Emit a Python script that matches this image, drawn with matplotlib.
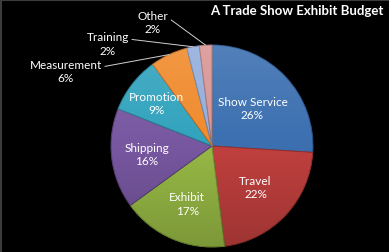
import numpy as np
import matplotlib
matplotlib.use("Agg")
import matplotlib.pyplot as plt
from matplotlib.lines import Line2D
from matplotlib.patches import Circle

plt.rcParams['font.family'] = ['Lato', 'DejaVu Sans']

# data, clockwise from 12 o'clock
categories = ["Show Service", "Travel", "Exhibit", "Shipping", "Promotion",
              "Measurement", "Training", "Other"]
shares = [26, 22, 17, 16, 9, 6, 2, 2]
colors = ["#3b6fb0", "#c0403e", "#97b945", "#7757a0", "#31a3bd",
          "#f08a2c", "#92aedc", "#d99593"]
edges = ["#2a5288", "#93302e", "#718b33", "#573f77", "#23798d",
         "#b86820", "#6d83a8", "#a56f6e"]

fig = plt.figure(figsize=(3.89, 2.53), dpi=100)
fig.patch.set_facecolor("black")
# thin grey frame on the top and left edge
fig.add_artist(Line2D([0, 1], [0.997, 0.997], color="#3c3c3c", lw=1.5, transform=fig.transFigure))
fig.add_artist(Line2D([0.002, 0.002], [0, 1], color="#3c3c3c", lw=1.5, transform=fig.transFigure))

ax = fig.add_axes([111 / 389, 5 / 253, 202 / 389, 202 / 253])
ax.set_facecolor("black")
wedges, _ = ax.pie(shares, colors=colors, startangle=90, counterclock=False,
                   radius=1.0, wedgeprops=dict(linewidth=0.7))
for w, ec in zip(wedges, edges):
    w.set_edgecolor(ec)

# soft light-to-dark shading over the pie, like the office chart style
yy = np.linspace(1, -1, 200)[:, None] * np.ones((1, 200))
shade = np.zeros((200, 200, 4))
top = np.clip(yy, 0, 1)
bot = np.clip(-yy, 0, 1)
shade[..., :3] = np.where(yy[..., None] > 0, 1.0, 0.0)
shade[..., 3] = 0.12 * top + 0.18 * bot
im = ax.imshow(shade, extent=(-1, 1, -1, 1), zorder=3, interpolation="bilinear")
clip = Circle((0, 0), 1.0, transform=ax.transData)
im.set_clip_path(clip)

ax.set_xlim(-1, 1)
ax.set_ylim(-1, 1)
ax.set_aspect("equal")
ax.axis("off")

# labels inside the big slices
inner_r = [0.55, 0.59, 0.62, 0.65, 0.69]
for i in range(5):
    w = wedges[i]
    mid = np.deg2rad((w.theta1 + w.theta2) / 2)
    ax.text(inner_r[i] * np.cos(mid), inner_r[i] * np.sin(mid),
            f"{categories[i]}\n{shares[i]}%", ha="center", va="center",
            color="white", fontsize=8.5, linespacing=1.25, zorder=5)

# labels with leader lines for the small slices
outer_pos = [(-1.446, 0.74), (-1.03, 1.015), (-0.584, 1.225)]
for i, (tx, ty) in zip(range(5, 8), outer_pos):
    w = wedges[i]
    mid = np.deg2rad((w.theta1 + w.theta2) / 2)
    ax.annotate(f"{categories[i]}\n{shares[i]}%",
                xy=(np.cos(mid), np.sin(mid)), xytext=(tx, ty),
                ha="center", va="center", color="white", fontsize=8.5,
                linespacing=1.25, annotation_clip=False, zorder=5,
                arrowprops=dict(arrowstyle="-", color="#d0d0d0", lw=0.7,
                                relpos=(1.0, 0.68), shrinkA=0, shrinkB=0))

fig.text(0.985, 0.955, "A Trade Show Exhibit Budget", ha="right", va="center",
         color="white", fontsize=9.5, fontweight="bold")

fig.savefig("out.png", dpi=100, facecolor=fig.get_facecolor())
